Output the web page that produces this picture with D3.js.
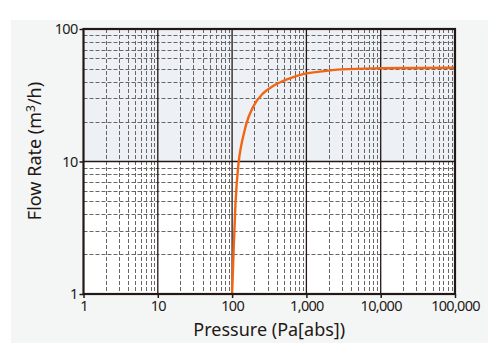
<!DOCTYPE html>
<html>
<head>
<meta charset="utf-8">
<script src="https://cdn.jsdelivr.net/npm/d3@7"></script>
<style>
  body { margin: 0; background: #fff; }
  text { font-family: "Noto Sans", "Open Sans", sans-serif; fill: #231815; }
</style>
</head>
<body>
<div id="chart"></div>
<script>
// curve
var pressure = [100, 103, 105, 111, 122, 132, 145, 156, 192, 261, 356, 598, 904, 1513, 3000, 10000, 30000, 100000];
var flowRate = [1, 1.6, 2.2, 4.8, 9.7, 13, 16.5, 19.4, 25.9, 32.7, 37.1, 42.4, 45.7, 47.7, 49.6, 50.5, 50.8, 51];

var xTicks = [1, 10, 100, 1000, 10000, 100000];
var xTickLabels = ["1", "10", "100", "1,000", "10,000", "100,000"];
var yTicks = [1, 10, 100];
var yTickLabels = ["1", "10", "100"];

var W = 500, H = 360;
var margin = { top: 29, right: 45, bottom: 66, left: 83.5 },
    width = W - margin.left - margin.right,
    height = H - margin.top - margin.bottom;

var svg = d3.select("#chart").append("svg")
  .attr("width", W).attr("height", H);

// light panel behind everything
svg.append("rect")
  .attr("x", 11).attr("y", 20).attr("width", 477).attr("height", 323)
  .attr("fill", "#f4f6f6");

var g = svg.append("g")
  .attr("transform", "translate(" + margin.left + "," + margin.top + ")");

var x = d3.scaleLog().domain([1, 100000]).range([0, width]);
var y = d3.scaleLog().domain([1, 100]).range([height, 0]);

// snap thin grid lines onto the pixel grid so they stay crisp
var sx = function(d) { return Math.round(x(d) + margin.left) + 0.5 - margin.left; };
var sy = function(d) { return Math.round(y(d) + margin.top) + 0.5 - margin.top; };

// plot background: white lower decade, tinted upper decade
g.append("rect").attr("width", width).attr("height", height).attr("fill", "#fff");
g.append("rect")
  .attr("x", 0).attr("y", y(100))
  .attr("width", width).attr("height", y(10) - y(100))
  .attr("fill", "#edf1f5");

// minor grid (dashed)
var xMinor = [], yMinor = [];
xTicks.slice(0, -1).forEach(function(d) {
  for (var k = 2; k <= 9; k++) xMinor.push(d * k);
});
yTicks.slice(0, -1).forEach(function(d) {
  for (var k = 2; k <= 9; k++) yMinor.push(d * k);
});

g.append("g").selectAll("line").data(xMinor).enter().append("line")
  .attr("x1", sx).attr("x2", sx)
  .attr("y1", 0).attr("y2", height)
  .attr("stroke", "#666").attr("stroke-width", 1)
  .attr("stroke-dasharray", "4,2");

g.append("g").selectAll("line").data(yMinor).enter().append("line")
  .attr("y1", sy).attr("y2", sy)
  .attr("x1", 0).attr("x2", width)
  .attr("stroke", "#666").attr("stroke-width", 1)
  .attr("stroke-dasharray", "4,2");

// major grid
g.append("g").selectAll("line").data(xTicks.slice(1, -1)).enter().append("line")
  .attr("x1", function(d) { return x(d); }).attr("x2", function(d) { return x(d); })
  .attr("y1", 0).attr("y2", height)
  .attr("stroke", "#231815").attr("stroke-width", 1.3);

g.append("g").selectAll("line").data(yTicks.slice(1, -1)).enter().append("line")
  .attr("y1", function(d) { return y(d); }).attr("y2", function(d) { return y(d); })
  .attr("x1", 0).attr("x2", width)
  .attr("stroke", "#231815").attr("stroke-width", 1.3);

// curve
var line = d3.line()
  .x(function(d, i) { return x(pressure[i]); })
  .y(function(d) { return y(d); })
  .curve(d3.curveMonotoneX);

g.append("path")
  .datum(flowRate)
  .attr("d", line)
  .attr("fill", "none")
  .attr("stroke", "#f26513")
  .attr("stroke-width", 2.4);

// frame
g.append("rect")
  .attr("width", width).attr("height", height)
  .attr("fill", "none").attr("stroke", "#231815").attr("stroke-width", 2.2);

// axes
var xAxis = g.append("g")
  .attr("transform", "translate(0," + height + ")")
  .call(d3.axisBottom(x).tickValues(xTicks).tickSize(4)
    .tickFormat(function(d, i) { return xTickLabels[i]; }));

var yAxis = g.append("g")
  .call(d3.axisLeft(y).tickValues(yTicks).tickSize(4)
    .tickFormat(function(d, i) { return yTickLabels[i]; }));

[xAxis, yAxis].forEach(function(a) {
  a.select(".domain").remove();
  a.selectAll(".tick line").attr("stroke", "#231815").attr("stroke-width", 1.5);
  a.selectAll(".tick text")
    .style("font-family", "'Noto Sans', sans-serif")
    .style("font-size", "14.5px")
    .style("letter-spacing", "-0.7px")
    .attr("fill", "#231815");
});
xAxis.selectAll(".tick text").attr("dy", "0.95em").attr("y", 3);
yAxis.selectAll(".tick text").attr("x", -6);

// axis titles
svg.append("text")
  .attr("x", margin.left + width / 2)
  .attr("y", 335.5)
  .attr("text-anchor", "middle")
  .style("font-size", "18px")
  .text("Pressure (Pa[abs])");

svg.append("text")
  .attr("transform", "translate(41,151) rotate(-90)")
  .attr("text-anchor", "middle")
  .style("font-size", "18px")
  .html("Flow Rate (m<tspan dy='-6' style='font-size:12px'>3</tspan><tspan dy='6'>/h)</tspan>");
</script>
</body>
</html>
